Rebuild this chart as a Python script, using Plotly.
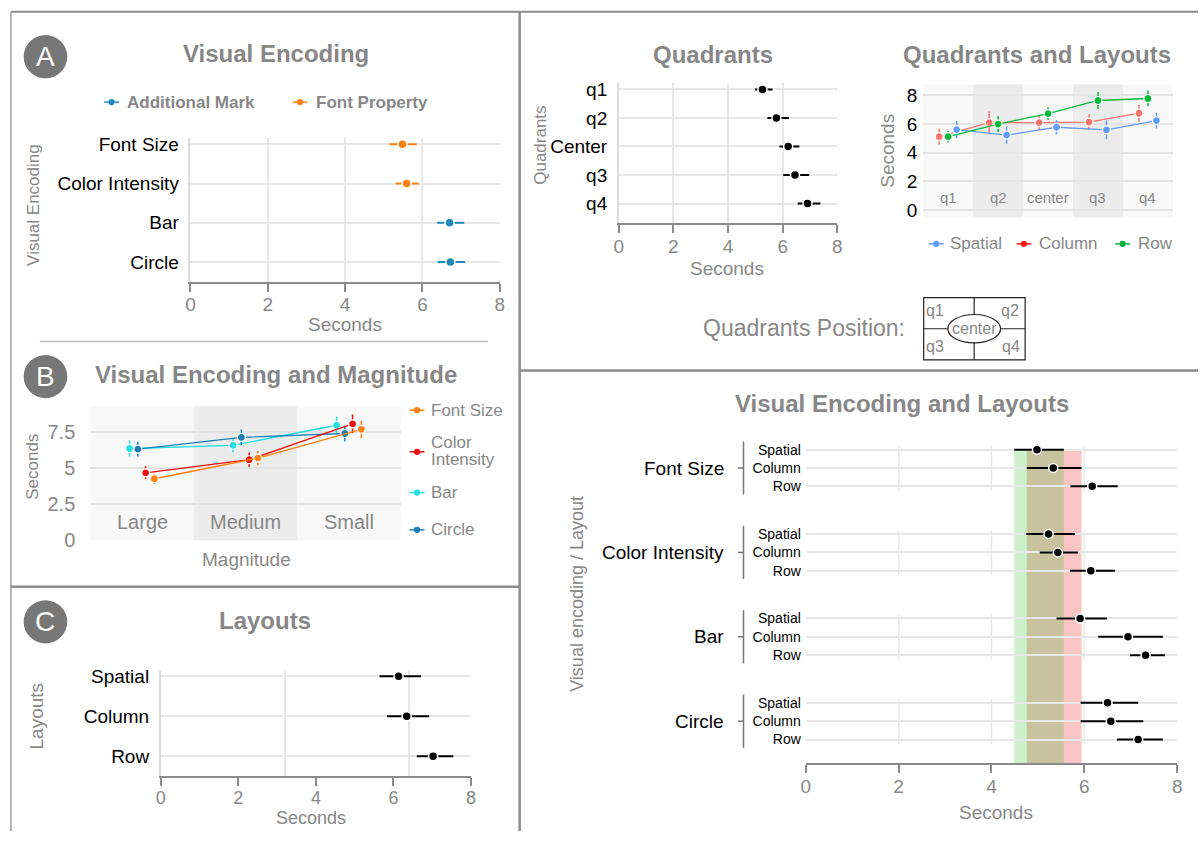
import plotly.graph_objects as go

W, H = 1203, 842
FONT = "Liberation Sans, Arial, Helvetica, sans-serif"
GRAY = "#878787"
GRID = "#e7e7e7"
AXIS = "#8a8a8a"
BORDER = "#8c8c8c"

# ---------------- Panel A : Visual Encoding ----------------
a_categories = ["Font Size", "Color Intensity", "Bar", "Circle"]
a_groups = ["Font Property", "Font Property", "Additional Mark", "Additional Mark"]
a_mean = [5.48, 5.59, 6.70, 6.72]
a_low = [5.15, 5.31, 6.38, 6.39]
a_high = [5.85, 5.90, 7.08, 7.10]
a_group_colors = {"Additional Mark": "#1b89be", "Font Property": "#fb8212"}

# ---------------- Panel B : Visual Encoding and Magnitude ----------------
b_magnitudes = ["Large", "Medium", "Small"]
b_series = ["Font Size", "Color Intensity", "Bar", "Circle"]
b_values = {
    "Font Size": [4.27, 5.70, 7.70],
    "Color Intensity": [4.68, 5.59, 8.07],
    "Bar": [6.37, 6.59, 7.98],
    "Circle": [6.32, 7.14, 7.41],
}
b_errors = {
    "Font Size": [0.35, 0.50, 0.60],
    "Color Intensity": [0.45, 0.50, 0.65],
    "Bar": [0.55, 0.50, 0.60],
    "Circle": [0.50, 0.55, 0.55],
}
b_colors = {"Font Size": "#ff7f0e", "Color Intensity": "#ee1111", "Bar": "#22e0e0", "Circle": "#1b7db8"}
b_dodge = {"Font Size": 0.12, "Color Intensity": 0.035, "Bar": -0.12, "Circle": -0.04}

# ---------------- Panel C : Layouts ----------------
c_layouts = ["Spatial", "Column", "Row"]
c_mean = [6.13, 6.34, 7.02]
c_low = [5.64, 5.83, 6.60]
c_high = [6.71, 6.92, 7.54]

# ---------------- Quadrants ----------------
q_labels = ["q1", "q2", "Center", "q3", "q4"]
q_mean = [5.26, 5.77, 6.20, 6.45, 6.91]
q_low = [4.99, 5.44, 5.88, 6.02, 6.55]
q_high = [5.63, 6.23, 6.61, 6.97, 7.38]

# ---------------- Quadrants and Layouts ----------------
ql_quadrants = ["q1", "q2", "center", "q3", "q4"]
ql_series = ["Spatial", "Column", "Row"]
ql_values = {
    "Spatial": [5.62, 5.23, 5.78, 5.60, 6.25],
    "Column": [5.12, 6.10, 6.10, 6.14, 6.76],
    "Row": [5.12, 6.00, 6.73, 7.65, 7.79],
}
ql_errors = {
    "Spatial": [0.60, 0.60, 0.50, 0.65, 0.55],
    "Column": [0.55, 0.80, 0.50, 0.55, 0.60],
    "Row": [0.40, 0.55, 0.45, 0.60, 0.55],
}
ql_colors = {"Spatial": "#619cff", "Column": "#f8766d", "Row": "#00ba38"}
ql_legend_colors = {"Spatial": "#619cff", "Column": "#ff1a1a", "Row": "#00b33c"}
ql_dodge = {"Spatial": 0.17, "Column": -0.18, "Row": 0.0}

# ---------------- Visual Encoding and Layouts ----------------
vel_encodings = ["Font Size", "Color Intensity", "Bar", "Circle"]
vel_layouts = ["Spatial", "Column", "Row"]
vel_mean = {
    "Font Size": [4.98, 5.33, 6.17],
    "Color Intensity": [5.23, 5.43, 6.14],
    "Bar": [5.91, 6.94, 7.32],
    "Circle": [6.50, 6.57, 7.16],
}
vel_low = {
    "Font Size": [4.49, 4.76, 5.70],
    "Color Intensity": [4.75, 5.04, 5.69],
    "Bar": [5.40, 6.30, 6.98],
    "Circle": [5.92, 5.92, 6.70],
}
vel_high = {
    "Font Size": [5.56, 5.94, 6.72],
    "Color Intensity": [5.80, 5.86, 6.66],
    "Bar": [6.49, 7.69, 7.74],
    "Circle": [7.16, 7.27, 7.69],
}

seconds_ticks = [0, 2, 4, 6, 8]


def fx(x):
    return x / W


def fy(y):
    return 1 - y / H


fig = go.Figure()
shapes = []
annotations = []
axes_layout = {}


def text(x, y, s, size, color=GRAY, bold=False, xanchor="center", angle=0, xref="paper", yref="paper"):
    annotations.append(dict(
        x=fx(x) if xref == "paper" else x,
        y=fy(y) if yref == "paper" else y,
        xref=xref, yref=yref,
        text=f"<b>{s}</b>" if bold else s, showarrow=False,
        font=dict(size=size, color=color, family=FONT),
        xanchor=xanchor, yanchor="middle", textangle=angle))


def pline(x0, y0, x1, y1, color, width, dash="solid"):
    shapes.append(dict(type="line", xref="paper", yref="paper",
                       x0=fx(x0), y0=fy(y0), x1=fx(x1), y1=fy(y1),
                       line=dict(color=color, width=width, dash=dash)))


def pdot(cx, cy, rx, color, ry=None, line_color=None, lw=0):
    ry = rx if ry is None else ry
    shapes.append(dict(type="circle", xref="paper", yref="paper",
                       x0=fx(cx - rx), x1=fx(cx + rx), y0=fy(cy + ry), y1=fy(cy - ry),
                       fillcolor=color, line=dict(color=line_color or color, width=lw)))


def legend_glyph(x0, y, color):
    pline(x0, y, x0 + 4.5, y, color, 1.5)
    pline(x0 + 10.5, y, x0 + 15, y, color, 1.5)
    pdot(x0 + 7.5, y, 3.2, color)


def axes(n, x0, x1, y0, y1, xa, ya):
    sx = "" if n == 1 else str(n)
    axes_layout["xaxis" + sx] = dict(domain=[fx(x0), fx(x1)], anchor="y" + sx, fixedrange=True, **xa)
    axes_layout["yaxis" + sx] = dict(domain=[fy(y1), fy(y0)], anchor="x" + sx, fixedrange=True, **ya)


def sec_xaxis(minor_grid=None, size=19):
    d = dict(range=[0, 8], tickvals=seconds_ticks, showgrid=False, zeroline=False,
             showline=True, linecolor=AXIS, linewidth=2, ticks="outside", ticklen=8,
             tickwidth=2, tickcolor=AXIS, tickfont=dict(size=size, color=GRAY, family=FONT),
             ticklabelstandoff=-3)
    if minor_grid:
        d["minor"] = dict(tickvals=minor_grid, showgrid=True, gridcolor=GRID, gridwidth=1.5, ticks="")
    return d


def cat_yaxis(cats, rng, size=19):
    return dict(type="category", categoryorder="array", categoryarray=cats, range=rng,
                showgrid=True, gridcolor=GRID, gridwidth=1.5, zeroline=False,
                showline=True, linecolor="#dcdcdc", linewidth=1.5, ticks="",
                tickfont=dict(size=size, color="black", family=FONT), ticklabelstandoff=6)


def err_x(mean, low, high, color, thick=2):
    return dict(type="data", symmetric=False,
                array=[h - m for m, h in zip(mean, high)],
                arrayminus=[m - l for m, l in zip(mean, low)],
                color=color, thickness=thick, width=0)


# ======== Panel A ========
axes(1, 187, 499, 136, 282, sec_xaxis([2, 4, 6]), cat_yaxis(a_categories, [3.5, -0.15]))
for grp in ["Font Property", "Additional Mark"]:
    idx = [i for i, g in enumerate(a_groups) if g == grp]
    m = [a_mean[i] for i in idx]
    fig.add_trace(go.Scatter(
        x=m, y=[a_categories[i] for i in idx], mode="markers",
        marker=dict(size=9, color=a_group_colors[grp], line=dict(color="white", width=1.5)),
        error_x=err_x(m, [a_low[i] for i in idx], [a_high[i] for i in idx], a_group_colors[grp]),
        xaxis="x", yaxis="y", showlegend=False, hoverinfo="skip"))

text(273, 49, "Visual Encoding", 24, bold=True)
text(343, 326, "Seconds", 19)
text(28, 204, "Visual Encoding", 17, angle=-90)
legend_glyph(100, 99, a_group_colors["Additional Mark"])
text(121.5, 99, "Additional Mark", 17, bold=True, xanchor="left")
legend_glyph(290, 99, a_group_colors["Font Property"])
text(311.5, 99, "Font Property", 17, bold=True, xanchor="left")

# ======== Panel B ========
axes(2, 86, 399, 409, 545.7,
     dict(range=[-0.5, 2.5], showgrid=False, zeroline=False, showline=False,
          showticklabels=False, ticks=""),
     dict(range=[0, 9.3], tickvals=[0, 2.5, 5, 7.5], ticktext=["0", "2.5", "5", "7.5"],
          showgrid=True, gridcolor="#e2e2e2", gridwidth=1.5, zeroline=False, showline=False,
          ticks="", tickfont=dict(size=20, color=GRAY, family=FONT), ticklabelstandoff=14))
shapes.append(dict(type="rect", xref="x2 domain", yref="y2 domain", x0=0, x1=1, y0=0, y1=1,
                   fillcolor="#f8f8f8", line=dict(width=0), layer="below"))
shapes.append(dict(type="rect", xref="x2", yref="y2 domain", x0=0.5, x1=1.5, y0=0, y1=1,
                   fillcolor="#ececec", line=dict(width=0), layer="below"))
for name in ["Bar", "Circle", "Color Intensity", "Font Size"]:
    xs = [i + b_dodge[name] for i in range(len(b_magnitudes))]
    fig.add_trace(go.Scatter(
        x=xs, y=b_values[name], mode="lines+markers",
        line=dict(color=b_colors[name], width=1.3),
        marker=dict(size=8, color=b_colors[name], line=dict(color="white", width=1.2)),
        error_y=dict(type="data", array=b_errors[name], color=b_colors[name], thickness=1.5, width=0),
        xaxis="x2", yaxis="y2", showlegend=False, hoverinfo="skip"))
for i, mag in enumerate(b_magnitudes):
    text(i, 1.27, mag, 20, xref="x2", yref="y2")
text(273, 377, "Visual Encoding and Magnitude", 24, bold=True)
text(243.5, 565.5, "Magnitude", 19)
text(27, 471, "Seconds", 17, angle=-90)
b_leg_y = {"Font Size": 413, "Color Intensity": 455.5, "Bar": 497, "Circle": 535}
for name in b_series:
    legend_glyph(408, b_leg_y[name], b_colors[name])
text(428, 413, "Font Size", 17, xanchor="left")
text(428, 445.5, "Color", 17, xanchor="left")
text(428, 463.5, "Intensity", 17, xanchor="left")
text(428, 497, "Bar", 17, xanchor="left")
text(428, 535, "Circle", 17, xanchor="left")

# ======== Panel C ========
axes(3, 157, 470, 679, 785.7, sec_xaxis([3.2, 6.4], size=18), cat_yaxis(c_layouts, [2.49, -0.13]))
fig.add_trace(go.Scatter(
    x=c_mean, y=c_layouts, mode="markers",
    marker=dict(size=9, color="black", line=dict(color="white", width=1.5)),
    error_x=err_x(c_mean, c_low, c_high, "black"),
    xaxis="x3", yaxis="y3", showlegend=False, hoverinfo="skip"))
text(262.5, 627, "Layouts", 24, bold=True)
text(309, 829, "Seconds", 18)
text(31.5, 725, "Layouts", 19, angle=-90)

# ======== Quadrants ========
axes(4, 618.9, 839.3, 80, 222.7, sec_xaxis([2, 4, 6]), cat_yaxis(q_labels, [4.70, -0.21]))
fig.add_trace(go.Scatter(
    x=q_mean, y=q_labels, mode="markers",
    marker=dict(size=9, color="black", line=dict(color="white", width=1.5)),
    error_x=err_x(q_mean, q_low, q_high, "black"),
    xaxis="x4", yaxis="y4", showlegend=False, hoverinfo="skip"))
text(714, 50, "Quadrants", 24, bold=True)
text(728.5, 268.5, "Seconds", 19)
text(540, 143, "Quadrants", 17, angle=-90)

# ======== Quadrants and Layouts ========
axes(5, 925.9, 1177.7, 81, 216.7,
     dict(range=[-0.5, 4.5], showgrid=False, zeroline=False, showline=False,
          showticklabels=False, ticks=""),
     dict(range=[-0.53, 8.77], tickvals=[0, 2, 4, 6, 8], showgrid=True, gridcolor="#e3e3e3",
          gridwidth=1.5, zeroline=False, showline=False, ticks="",
          tickfont=dict(size=19, color="black", family=FONT), ticklabelstandoff=5))
shapes.append(dict(type="rect", xref="x5 domain", yref="y5 domain", x0=0, x1=1, y0=0, y1=1,
                   fillcolor="#f8f8f8", line=dict(width=0), layer="below"))
for band in [1, 3]:
    shapes.append(dict(type="rect", xref="x5", yref="y5 domain", x0=band - 0.5, x1=band + 0.5,
                       y0=0, y1=1, fillcolor="#ececec", line=dict(width=0), layer="below"))
for name in ["Column", "Spatial", "Row"]:
    xs = [i + ql_dodge[name] for i in range(len(ql_quadrants))]
    fig.add_trace(go.Scatter(
        x=xs, y=ql_values[name], mode="lines+markers",
        line=dict(color=ql_colors[name], width=1.3),
        marker=dict(size=8, color=ql_colors[name], line=dict(color="white", width=1.2)),
        error_y=dict(type="data", array=ql_errors[name], color=ql_colors[name], thickness=1.5, width=0),
        xaxis="x5", yaxis="y5", showlegend=False, hoverinfo="skip"))
for i, q in enumerate(ql_quadrants):
    text(i, 0.89, q, 15, xref="x5", yref="y5")
text(1041, 50, "Quadrants and Layouts", 24, bold=True)
text(890, 149, "Seconds", 19, angle=-90)
ql_leg_x = {"Spatial": (931.5, 951), "Column": (1020, 1040.5), "Row": (1119.5, 1140)}
for name in ql_series:
    gx, tx = ql_leg_x[name]
    legend_glyph(gx, 243.5, ql_legend_colors[name])
    text(tx, 243.5, name, 17, xanchor="left")

# Quadrants Position diagram
text(910, 329, "Quadrants Position:", 23, xanchor="right")
shapes.append(dict(type="rect", xref="paper", yref="paper", x0=fx(926.4), x1=fx(1028.7),
                   y0=fy(361.7), y1=fy(298.3), line=dict(color="#222222", width=1.2),
                   fillcolor="white"))
pline(977.3, 298.3, 977.3, 361.7, "#222222", 1.2)
pline(926.4, 330, 1028.7, 330, "#222222", 1.2)
pdot(977.3, 330, 26.6, "white", ry=14.5, line_color="#222222", lw=1.2)
text(938, 311, "q1", 16)
text(1013, 311, "q2", 16)
text(977.3, 330, "center", 16)
text(938, 348, "q3", 16)
text(1014, 348, "q4", 16)

# ======== Visual Encoding and Layouts ========
GROUP_PITCH = 4.6
vel_y = {enc: [g * GROUP_PITCH + l for l in range(len(vel_layouts))] for g, enc in enumerate(vel_encodings)}
Y6_TOP, Y6_BOTTOM = -0.71, 17.08
all_y = [y for enc in vel_encodings for y in vel_y[enc]]
axes(6, 807.5, 1182, 440, 772.7, sec_xaxis(),
     dict(range=[Y6_BOTTOM, Y6_TOP], tickvals=all_y, ticktext=vel_layouts * len(vel_encodings),
          showgrid=True, gridcolor=GRID, gridwidth=1.5, zeroline=False, showline=False, ticks="",
          tickfont=dict(size=14, color="black", family=FONT), ticklabelstandoff=4))
# reference bands (Font Size: Column below, Spatial on top)
shapes.append(dict(type="rect", xref="x6", yref="y6", x0=vel_low["Font Size"][1], x1=vel_high["Font Size"][1],
                   y0=vel_y["Font Size"][0], y1=Y6_BOTTOM, fillcolor="rgba(242,58,58,0.30)",
                   line=dict(width=0), layer="below"))
shapes.append(dict(type="rect", xref="x6", yref="y6", x0=vel_low["Font Size"][0], x1=vel_high["Font Size"][0],
                   y0=vel_y["Font Size"][0], y1=Y6_BOTTOM, fillcolor="rgba(38,192,38,0.24)",
                   line=dict(width=0), layer="below"))
for enc in vel_encodings:
    ys = vel_y[enc]
    for gx in [2, 4, 6]:
        shapes.append(dict(type="line", xref="x6", yref="y6", x0=gx, x1=gx, y0=ys[0] - 0.2, y1=ys[-1] + 0.25,
                           line=dict(color=GRID, width=1.5), layer="below"))
    # bracket
    shapes.append(dict(type="line", xref="paper", yref="y6", x0=fx(744.7), x1=fx(744.7),
                       y0=ys[0] - 0.45, y1=ys[-1] + 0.45, line=dict(color="#777777", width=1.5)))
    shapes.append(dict(type="line", xref="paper", yref="y6", x0=fx(739), x1=fx(744.7),
                       y0=ys[1], y1=ys[1], line=dict(color="#777777", width=1.5)))
    text(727, ys[1], enc, 19, color="black", xanchor="right", yref="y6")
    fig.add_trace(go.Scatter(
        x=vel_mean[enc], y=ys, mode="markers",
        marker=dict(size=9, color="black", line=dict(color="white", width=1.5)),
        error_x=err_x(vel_mean[enc], vel_low[enc], vel_high[enc], "black"),
        xaxis="x6", yaxis="y6", showlegend=False, hoverinfo="skip"))
text(904.5, 406.5, "Visual Encoding and Layouts", 24, bold=True)
text(999, 823.5, "Seconds", 19)
text(576, 600, "Visual encoding / Layout", 18, angle=-90)

# ======== Panel letters ========
for letter, cy in [("A", 52.7), ("B", 378.8), ("C", 628.8)]:
    pdot(40.8, cy, 22, "#777777")
    text(40.8, cy, letter, 28, color="white")

# ======== Borders ========
pline(6, 7, 1203, 7, BORDER, 2)
pline(6, 7, 6, 842, "#a0a0a0", 1.5)
pline(519, 7, 519, 842, BORDER, 2.5)
pline(519, 372.7, 1203, 372.7, BORDER, 2.5)
pline(6, 593, 519, 593, BORDER, 2.5)
pline(35, 343, 487, 343, "#bdbdbd", 1.5)

fig.update_layout(
    width=W, height=H, margin=dict(l=0, r=0, t=0, b=0),
    paper_bgcolor="white", plot_bgcolor="rgba(0,0,0,0)",
    showlegend=False, font=dict(family=FONT, color=GRAY),
    shapes=shapes, annotations=annotations, **axes_layout)

fig.write_html(
    "out.html",
    config={"displayModeBar": False},
    post_script="document.body.style.margin='0px';document.body.style.overflow='hidden';")
